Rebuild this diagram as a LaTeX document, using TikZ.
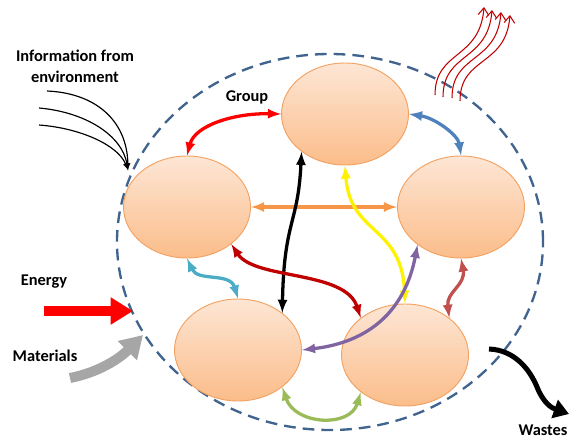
\documentclass[tikz,border=0pt]{standalone}
\usepackage{fontspec}
\setmainfont{Carlito}
\usetikzlibrary{shapes.geometric, arrows.meta}
\tikzset{>=latex}
\definecolor{cpl}{HTML}{FDE6D5}
\definecolor{cpd}{HTML}{FBBD8A}
\definecolor{cpb}{HTML}{F3A262}
\definecolor{cbd}{HTML}{41648F}
\definecolor{cbl}{HTML}{4F81BD}
\definecolor{cor}{HTML}{F79646}
\definecolor{cdr}{HTML}{C00000}
\definecolor{cpu}{HTML}{8064A2}
\definecolor{caq}{HTML}{4BACC6}
\definecolor{cbr}{HTML}{C0504D}
\definecolor{cgr}{HTML}{9BBB59}
\definecolor{cgy}{HTML}{A6A6A6}
\tikzset{
    memb/.style={ellipse, draw=cpb, line width=.8pt, top color=cpl, bottom color=cpd,
        minimum width=3.81cm, minimum height=3.06cm, inner sep=0},
    lnk/.style={line width=2.8pt, <->},
    heat/.style={cdr, line width=.9pt, -{Straight Barb[length=6pt, width=9pt]}},
    big/.style={line width=#1, -{Triangle[length=19pt, width=22pt]}},
    lbl/.style={font=\fontsize{14}{18}\selectfont\bfseries, align=center}
}
\begin{document}
\begin{tikzpicture}[x=.03cm, y=-.03cm]
    \useasboundingbox(0, 0) rectangle(571, 440);
    \draw[cbd, line width=2pt, dash pattern=on 10pt off 6pt](330, 242) ellipse(6.39cm and 5.64cm);
    % members
    \node[memb](gt) at(345, 114){};
    \node[memb](gl) at(187, 207){};
    \node[memb](gr) at(461, 207){};
    \node[memb](gbl) at(238, 350){};
    \node[memb](gbr) at(405, 355){};
    % links between members
    \draw[lnk, red](gl.north)..controls(195, 125)and(235, 113)..(gt.west);
    \draw[lnk, cbl](gt.east)..controls(435, 118)and(458, 135)..(gr.north);
    \draw[lnk, cor](gl.east)--(gr.west);
    \draw[lnk](gt.221)..controls(298, 225)and(284, 220)..(gbl.40);
    \draw[lnk, yellow](gt.south)..controls(350, 235)and(402, 225)..(gbr.north);
    \draw[lnk, cdr](gl.320)..controls(255, 280)and(345, 270)..(gbr.140);
    \draw[lnk, cpu](gr.221)..controls(405, 310)and(370, 342)..(gbl.east);
    \draw[lnk, caq](gl.south)..controls(198, 282)and(230, 272)..(gbl.north);
    \draw[lnk, cbr](gr.south)..controls(466, 285)and(446, 292)..(gbr.40);
    \draw[lnk, cgr](gbl.320)..controls(295, 425)and(350, 428)..(gbr.220);
    % labels
    \node[lbl](info) at(75, 66){Information from\\environment};
    \node[lbl](grp) at(247, 97){Group};
    \node[lbl](nrg) at(44, 282){Energy};
    \node[lbl](mat) at(45, 356){Materials};
    \node[lbl](wst) at(543, 430){Wastes};
    % information from outside
    \coordinate(in1) at(47, 91);
    \coordinate(in2) at(39, 108);
    \coordinate(in3) at(39, 125);
    \coordinate(inf) at(128, 170);
    \draw[->, line width=1pt](in1)..controls(95, 93)and(127, 120)..(inf);
    \draw[->, line width=1pt](in2)..controls(85, 112)and(122, 135)..(inf);
    \draw[->, line width=1pt](in3)..controls(80, 128)and(118, 145)..(inf);
    % heat
    \coordinate(h1a) at(435, 95);
    \coordinate(h1b) at(484, 7);
    \coordinate(h2a) at(443, 97);
    \coordinate(h2b) at(492, 10);
    \coordinate(h3a) at(452, 98);
    \coordinate(h3b) at(501, 12);
    \coordinate(h4a) at(460, 101);
    \coordinate(h4b) at(510, 15);
    \draw[heat](h1a)..controls(435, 50)and(480, 60)..(h1b);
    \draw[heat](h2a)..controls(443, 52)and(488, 62)..(h2b);
    \draw[heat](h3a)..controls(452, 53)and(497, 64)..(h3b);
    \draw[heat](h4a)..controls(460, 56)and(506, 67)..(h4b);
    % energy, materials, wastes
    \coordinate(en0) at(44, 311);
    \coordinate(en1) at(133, 311);
    \draw[big=9pt, red](en0)--(en1);
    \coordinate(mt0) at(70, 378);
    \coordinate(mt1) at(143, 335);
    \draw[big=8.5pt, cgy](mt0)..controls(100, 372)and(120, 358)..(mt1);
    \coordinate(ws0) at(489, 349);
    \coordinate(ws1) at(569, 414);
    \draw[line width=4.3pt, -{Triangle[length=13pt, width=16pt]}](ws0)..controls(515, 350)and(530, 370)..(537, 387)..controls(544, 404)and(552, 408)..(ws1);
\end{tikzpicture}
\end{document}
